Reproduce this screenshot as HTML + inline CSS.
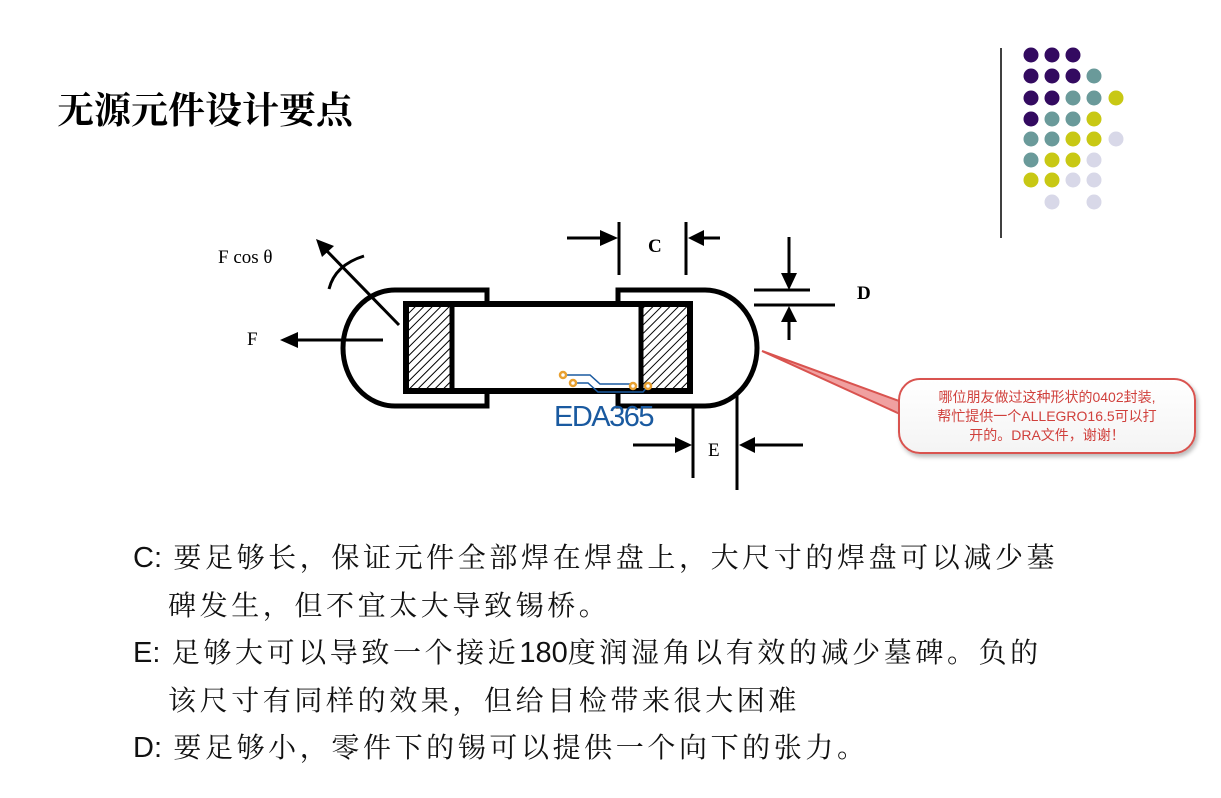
<!DOCTYPE html>
<html><head><meta charset="utf-8">
<style>
body{margin:0;background:#fff;width:1221px;height:798px;overflow:hidden;position:relative;font-family:"Liberation Sans","Noto Sans CJK SC",sans-serif}
.t{position:absolute;white-space:nowrap}
.title{left:57px;top:80px;font-size:37px;font-weight:bold;font-family:"Liberation Serif","Noto Serif CJK SC",serif;color:#000}
.b{font-size:28px;letter-spacing:3.6px;font-family:"Liberation Sans","Noto Serif CJK SC",serif;color:#111}
.b span{font-family:"Liberation Sans",sans-serif;letter-spacing:0;font-size:29px}
.call{position:absolute;left:898px;top:378px;width:298px;height:76px;border:2px solid #d9534f;border-radius:22px;background:linear-gradient(#fff,#f4f4f4);box-shadow:2px 3px 4px #bbb;color:#d0403c;font-size:14px;line-height:19px;text-align:center;padding-top:8px;box-sizing:border-box}
</style></head><body>
<div class="t title">无源元件设计要点</div>

<svg width="1221" height="798" style="position:absolute;left:0;top:0">
<defs>
<pattern id="h" width="6" height="6" patternUnits="userSpaceOnUse" patternTransform="rotate(45)">
<rect width="6" height="6" fill="#fff"/><line x1="0" y1="0" x2="0" y2="6" stroke="#000" stroke-width="2"/>
</pattern>
</defs>
<line x1="1001" y1="48" x2="1001" y2="238" stroke="#000" stroke-width="1.5"/>
<g>
<circle cx="1031" cy="55" r="7.5" fill="#330a60"/><circle cx="1052" cy="55" r="7.5" fill="#330a60"/><circle cx="1073" cy="55" r="7.5" fill="#330a60"/>
<circle cx="1031" cy="76" r="7.5" fill="#330a60"/><circle cx="1052" cy="76" r="7.5" fill="#330a60"/><circle cx="1073" cy="76" r="7.5" fill="#330a60"/><circle cx="1094" cy="76" r="7.5" fill="#6a9a9a"/>
<circle cx="1031" cy="98" r="7.5" fill="#330a60"/><circle cx="1052" cy="98" r="7.5" fill="#330a60"/><circle cx="1073" cy="98" r="7.5" fill="#6a9a9a"/><circle cx="1094" cy="98" r="7.5" fill="#6a9a9a"/><circle cx="1116" cy="98" r="7.5" fill="#c8c814"/>
<circle cx="1031" cy="119" r="7.5" fill="#330a60"/><circle cx="1052" cy="119" r="7.5" fill="#6a9a9a"/><circle cx="1073" cy="119" r="7.5" fill="#6a9a9a"/><circle cx="1094" cy="119" r="7.5" fill="#c8c814"/>
<circle cx="1031" cy="139" r="7.5" fill="#6a9a9a"/><circle cx="1052" cy="139" r="7.5" fill="#6a9a9a"/><circle cx="1073" cy="139" r="7.5" fill="#c8c814"/><circle cx="1094" cy="139" r="7.5" fill="#c8c814"/><circle cx="1116" cy="139" r="7.5" fill="#d8d8e8"/>
<circle cx="1031" cy="160" r="7.5" fill="#6a9a9a"/><circle cx="1052" cy="160" r="7.5" fill="#c8c814"/><circle cx="1073" cy="160" r="7.5" fill="#c8c814"/><circle cx="1094" cy="160" r="7.5" fill="#d8d8e8"/>
<circle cx="1031" cy="180" r="7.5" fill="#c8c814"/><circle cx="1052" cy="180" r="7.5" fill="#c8c814"/><circle cx="1073" cy="180" r="7.5" fill="#d8d8e8"/><circle cx="1094" cy="180" r="7.5" fill="#d8d8e8"/>
<circle cx="1052" cy="202" r="7.5" fill="#d8d8e8"/><circle cx="1094" cy="202" r="7.5" fill="#d8d8e8"/>
</g>

<g stroke="#000" stroke-width="5" fill="none">
<path d="M487,304 L487,290 L395,290 A52,58 0 0 0 395,406 L487,406 L487,392"/>
<path d="M618,304 L618,290 L705,290 A52,58 0 0 1 705,406 L618,406 L618,392"/>
</g>
<rect x="408" y="306" width="44" height="84" fill="url(#h)"/>
<rect x="643" y="306" width="45" height="84" fill="url(#h)"/>
<rect x="406" y="304" width="284" height="87" fill="none" stroke="#000" stroke-width="6"/>
<line x1="452" y1="304" x2="452" y2="391" stroke="#000" stroke-width="5"/>
<line x1="641" y1="304" x2="641" y2="391" stroke="#000" stroke-width="5"/>

<g stroke="#000" stroke-width="3">
<line x1="296" y1="340" x2="383" y2="340"/>
<line x1="399" y1="325" x2="325" y2="249"/>
<path d="M329,289 Q335,265 364,256" fill="none"/>
<line x1="567" y1="238" x2="604" y2="238"/>
<line x1="619" y1="222" x2="619" y2="275"/>
<line x1="686" y1="222" x2="686" y2="275"/>
<line x1="700" y1="238" x2="720" y2="238"/>
<line x1="754" y1="290" x2="810" y2="290"/>
<line x1="754" y1="305" x2="835" y2="305"/>
<line x1="789" y1="237" x2="789" y2="275"/>
<line x1="789" y1="320" x2="789" y2="340"/>
<line x1="693" y1="405" x2="693" y2="478"/>
<line x1="737" y1="395" x2="737" y2="490"/>
<line x1="633" y1="445" x2="678" y2="445"/>
<line x1="752" y1="445" x2="803" y2="445"/>
</g>
<g fill="#000">
<polygon points="280,340 298,332 298,348"/>
<polygon points="316,239 334,246 322,257"/>
<polygon points="618,238 600,230 600,246"/>
<polygon points="688,238 704,230 704,246"/>
<polygon points="789,290 781,273 797,273"/>
<polygon points="789,306 781,322 797,322"/>
<polygon points="692,445 675,437 675,453"/>
<polygon points="739,445 755,437 755,453"/>
</g>
<g font-family="Liberation Serif,serif" font-size="19" fill="#000">
<text x="218" y="263">F cos θ</text>
<text x="247" y="345">F</text>
<text x="648" y="252" font-weight="bold">C</text>
<text x="857" y="299" font-weight="bold">D</text>
<text x="708" y="456">E</text>
</g>

<g fill="none" stroke="#1a5aa0" stroke-width="1.5">
<path d="M563,375 L590,375 L600,384 L633,384"/>
<path d="M572,383 L588,383 L598,392 L643,392 L648,386"/>
</g>
<g fill="#fff" stroke="#e8a030" stroke-width="2.5">
<circle cx="563" cy="375" r="3"/><circle cx="573" cy="383" r="3"/><circle cx="633" cy="386" r="3"/><circle cx="648" cy="386" r="3"/>
</g>
<text x="554" y="426" font-family="Liberation Sans,sans-serif" font-size="29" fill="#1a5aa0" letter-spacing="-1.5">EDA365</text>

<path d="M762,351 L902,402 L900,414 Z" fill="#f0a0a0" stroke="#d9534f" stroke-width="2"/>
</svg>

<div class="call">哪位朋友做过这种形状的0402封装,<br>帮忙提供一个ALLEGRO16.5可以打<br>开的。DRA文件，谢谢！</div>

<div class="t b" style="left:133px;top:536px"><span>C:</span> 要足够长，保证元件全部焊在焊盘上，大尺寸的焊盘可以减少墓</div>
<div class="t b" style="left:168px;top:584px">碑发生，但不宜太大导致锡桥。</div>
<div class="t b" style="left:133px;top:631px"><span>E:</span> 足够大可以导致一个接近<span>180</span>度润湿角以有效的减少墓碑。负的</div>
<div class="t b" style="left:168px;top:679px">该尺寸有同样的效果，但给目检带来很大困难</div>
<div class="t b" style="left:133px;top:726px"><span>D:</span> 要足够小，零件下的锡可以提供一个向下的张力。</div>
</body></html>
